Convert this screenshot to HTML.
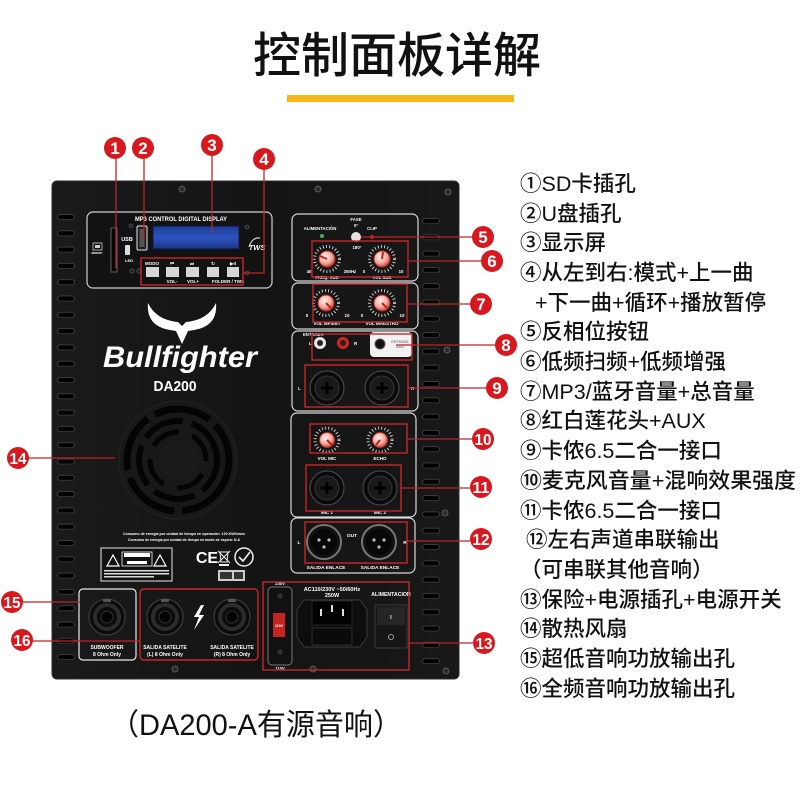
<!DOCTYPE html>
<html><head><meta charset="utf-8">
<style>
html,body{margin:0;padding:0;background:#fff;}
body{width:800px;height:800px;overflow:hidden;}
svg{display:block;}
.cj{font-family:"Liberation Sans","Noto Sans CJK SC",sans-serif;}
.t{font-family:"Liberation Sans",sans-serif;font-weight:bold;fill:#fff;}
</style></head>
<body>
<svg width="800" height="800" viewBox="0 0 800 800" xmlns="http://www.w3.org/2000/svg">
<defs>
  <pattern id="ventL" x="57" y="214" width="20" height="16.3" patternUnits="userSpaceOnUse">
    <rect x="0.5" y="0.5" width="17" height="5" rx="2.5" fill="#000" stroke="#4a4a4a" stroke-width="0.7"/>
  </pattern>
  <pattern id="ventR" x="422" y="218" width="20" height="16.3" patternUnits="userSpaceOnUse">
    <rect x="0.5" y="0.5" width="17" height="5" rx="2.5" fill="#000" stroke="#4a4a4a" stroke-width="0.7"/>
  </pattern>
  <linearGradient id="lcd" x1="0" y1="0" x2="0" y2="1">
    <stop offset="0" stop-color="#1b3a94"/><stop offset="0.5" stop-color="#2d55c0"/><stop offset="1" stop-color="#1a3586"/>
  </linearGradient>
  <radialGradient id="knob" cx="0.4" cy="0.35" r="0.7">
    <stop offset="0" stop-color="#fff2ee"/><stop offset="0.6" stop-color="#f0a79c"/><stop offset="1" stop-color="#c8342c"/>
  </radialGradient>
  <linearGradient id="panel" x1="0" y1="0" x2="1" y2="0">
    <stop offset="0" stop-color="#1a1a1a"/><stop offset="0.5" stop-color="#141414"/><stop offset="1" stop-color="#181818"/>
  </linearGradient>
</defs>

<!-- Title -->
<text x="397" y="72" text-anchor="middle" class="cj" font-size="48" font-weight="500" fill="#111">控制面板详解</text>
<rect x="287" y="95" width="227" height="7" fill="#f6b519"/>

<!-- Panel -->
<rect x="52" y="181" width="407" height="498" rx="5" fill="url(#panel)" stroke="#2c2c2c" stroke-width="1"/>
<rect x="57" y="214" width="19" height="456" fill="url(#ventL)"/>
<rect x="422" y="218" width="19" height="452" fill="url(#ventR)"/>

<!-- screws -->
<g fill="#2a2a2a" stroke="#6a6a6a" stroke-width="0.8">
  <circle cx="182" cy="189" r="3"/><circle cx="318" cy="189" r="3"/><circle cx="448" cy="192" r="3"/>
  <circle cx="447" cy="350" r="3"/><circle cx="445" cy="513" r="3"/>
  <circle cx="175" cy="669" r="3"/><circle cx="313" cy="669" r="3"/><circle cx="446" cy="671" r="3"/>
</g>

<!-- MP3 panel -->
<rect x="87" y="212" width="185" height="76" rx="6" fill="#121212" stroke="#cfcfcf" stroke-width="1.2"/>
<text x="181" y="221" text-anchor="middle" class="t" font-size="6.5" textLength="92" lengthAdjust="spacingAndGlyphs">MP3 CONTROL DIGITAL DISPLAY</text>
<rect x="111" y="228" width="6" height="44" fill="#050505" stroke="#777" stroke-width="0.8"/>
<rect x="93" y="243" width="9" height="7" fill="none" stroke="#ccc" stroke-width="0.8"/>
<rect x="95" y="245" width="5" height="3" fill="#ccc"/>
<text x="97" y="254" text-anchor="middle" class="t" font-size="2.5">MEMORY</text>
<text x="127" y="241" text-anchor="middle" class="t" font-size="5.5">USB</text>
<rect x="125" y="245" width="5" height="10" rx="1" fill="#ddd"/>
<text x="129" y="262" text-anchor="middle" class="t" font-size="4" fill="#aaa">LED</text>
<rect x="137" y="226" width="10" height="24" rx="1.5" fill="#1d1d1d" stroke="#e6e6e6" stroke-width="1"/>
<rect x="139.5" y="229" width="5" height="18" fill="#555"/>
<rect x="153" y="226" width="86" height="23" fill="url(#lcd)" stroke="#0c1a40" stroke-width="1"/>
<g fill="#222" stroke="#666" stroke-width="0.6">
  <circle cx="132" cy="271" r="2.2"/><circle cx="139" cy="271" r="2.2"/><circle cx="131" cy="226" r="2"/><circle cx="247" cy="227" r="2"/><circle cx="247" cy="273" r="2"/>
</g>
<path d="M249 247 q3 -10 11 -9" stroke="#ccc" stroke-width="1.2" fill="none"/>
<text x="257" y="250" text-anchor="middle" class="t" font-size="7.5" font-style="italic">TWS</text>
<g fill="#d6d6d6">
  <rect x="146" y="267" width="13" height="10"/><rect x="166" y="267" width="13" height="10"/><rect x="186" y="267" width="13" height="10"/><rect x="207" y="267" width="12" height="10"/><rect x="227" y="267" width="12" height="10"/>
</g>
<g class="t" font-size="4.5" text-anchor="middle">
  <text x="152" y="265">MODO</text><text x="172" y="265">⏮</text><text x="192" y="265">⏭</text><text x="213" y="265">↻</text><text x="233" y="265">▶II</text>
  <text x="172" y="283">VOL-</text><text x="193" y="283">VOL+</text><text x="228" y="283">FOLDER / TWS</text>
</g>

<!-- Logo -->
<path d="M148 303 Q146 326 170 330 L176 331 L182 344 L188 331 L194 330 Q218 326 216 303 Q208 320 186 322 L182 326 L178 322 Q156 320 148 303 Z" fill="#fff"/>
<text x="180" y="367" text-anchor="middle" class="t" font-size="30" font-style="italic" textLength="154" lengthAdjust="spacingAndGlyphs">Bullfighter</text>
<text x="175" y="391" text-anchor="middle" class="t" font-size="14.5" textLength="43" lengthAdjust="spacingAndGlyphs">DA200</text>

<!-- Fan -->
<g>
  <circle cx="178" cy="460" r="59" fill="#181818" stroke="#232323" stroke-width="1"/>
  <circle cx="178" cy="460" r="51" fill="none" stroke="#040404" stroke-width="7" stroke-dasharray="58 8" transform="rotate(20 178 460)"/>
  <circle cx="178" cy="460" r="39" fill="none" stroke="#040404" stroke-width="6" stroke-dasharray="42 9" transform="rotate(-10 178 460)"/>
  <circle cx="178" cy="460" r="28" fill="none" stroke="#040404" stroke-width="5" stroke-dasharray="30 14" transform="rotate(30 178 460)"/>
  <circle cx="178" cy="460" r="20" fill="#1a1a1a"/>
</g>

<!-- compliance -->
<g class="t" font-size="3.8" text-anchor="middle">
  <text x="184" y="535" textLength="122" lengthAdjust="spacingAndGlyphs">Consumo de energía por unidad de tiempo en operación: 120 KWh/mes</text>
  <text x="184" y="541" textLength="112" lengthAdjust="spacingAndGlyphs">Consumo de energía por unidad de tiempo en modo de espera: N.A</text>
</g>
<rect x="101" y="548" width="71" height="33" fill="#111" stroke="#e6e6e6" stroke-width="1"/>
<path d="M107 566 l6 -11 l6 11 z M154 566 l6 -11 l6 11 z" fill="none" stroke="#fff" stroke-width="1.2"/>
<rect x="122" y="552" width="30" height="14" fill="none" stroke="#fff" stroke-width="0.8"/>
<rect x="124" y="553" width="26" height="4" fill="#fff"/>
<rect x="127" y="561" width="20" height="3" fill="#fff"/>
<rect x="104" y="570" width="65" height="1.5" fill="#ddd"/><rect x="104" y="573" width="65" height="1.5" fill="#ddd"/><rect x="104" y="576" width="50" height="1.5" fill="#ddd"/>
<text x="207" y="563" text-anchor="middle" class="t" font-size="16">CE</text>
<path d="M220 552 h8 l-1 10 h-6 z M218 551 l12 12 M230 551 l-12 12" stroke="#eee" stroke-width="1" fill="none"/>
<rect x="219" y="564" width="10" height="2" fill="#eee"/>
<circle cx="244" cy="557" r="9" fill="none" stroke="#eee" stroke-width="1.5"/>
<path d="M239 557 l4 4 l7 -9" stroke="#eee" stroke-width="1.6" fill="none"/>
<rect x="218" y="570" width="27" height="11" fill="#ccc"/>
<rect x="220" y="572" width="12" height="7" fill="#333"/><rect x="234" y="572" width="9" height="7" fill="#333"/>

<!-- Speakon outputs -->
<rect x="79" y="589" width="57" height="71" rx="4" fill="none" stroke="#e8e8e8" stroke-width="1.2"/>
<rect x="140" y="589" width="118" height="71" rx="4" fill="none" stroke="#c8262a" stroke-width="1.4"/>
<g>
  <circle cx="107" cy="617" r="18" fill="#0b0b0b" stroke="#444" stroke-width="1"/>
  <circle cx="107" cy="617" r="12" fill="none" stroke="#2c2c2c" stroke-width="4"/>
  <circle cx="107" cy="617" r="6" fill="#000" stroke="#333" stroke-width="1"/>
  <rect x="103" y="599" width="8" height="3" fill="#555"/>
  <circle cx="165" cy="617" r="18" fill="#0b0b0b" stroke="#444" stroke-width="1"/>
  <circle cx="165" cy="617" r="12" fill="none" stroke="#2c2c2c" stroke-width="4"/>
  <circle cx="165" cy="617" r="6" fill="#000" stroke="#333" stroke-width="1"/>
  <rect x="161" y="599" width="8" height="3" fill="#555"/>
  <circle cx="232" cy="617" r="18" fill="#0b0b0b" stroke="#444" stroke-width="1"/>
  <circle cx="232" cy="617" r="12" fill="none" stroke="#2c2c2c" stroke-width="4"/>
  <circle cx="232" cy="617" r="6" fill="#000" stroke="#333" stroke-width="1"/>
  <rect x="228" y="599" width="8" height="3" fill="#555"/>
</g>
<path d="M201 605 l-7 12 h5 l-5 13 l10 -15 h-5 l5 -10 z" fill="#fff"/>
<g class="t" font-size="5" text-anchor="middle">
  <text x="107" y="649">SUBWOOFER</text><text x="107" y="656">8 Ohm Only</text>
  <text x="165" y="649">SALIDA SATELITE</text><text x="165" y="656">(L) 8 Ohm Only</text>
  <text x="232" y="649">SALIDA SATELITE</text><text x="232" y="656">(R) 8 Ohm Only</text>
</g>

<!-- Right subpanels -->
<g fill="none" stroke="#d8d8d8" stroke-width="1.2">
  <rect x="292" y="214" width="126" height="67" rx="6"/>
  <rect x="292" y="283" width="126" height="46" rx="6"/>
  <rect x="292" y="331" width="126" height="80" rx="6"/>
  <rect x="291" y="413" width="125" height="104" rx="6"/>
  <rect x="291" y="518" width="124" height="55" rx="6"/>
</g>

<!-- A: LEDs and knobs -->
<g class="t" font-size="4.3" text-anchor="middle">
  <text x="320" y="230">ALIMENTACIÓN</text><text x="356" y="221">FASE</text><text x="356" y="227">0°</text><text x="372" y="230">CLIP</text><text x="357" y="249">180°</text>
  <text x="327" y="279">FREQ. SUB</text><text x="382" y="279">VOL SUB</text>
  <text x="309" y="273">40</text><text x="350" y="273">250Hz</text><text x="364" y="273">0</text><text x="401" y="273">10</text>
</g>
<circle cx="322" cy="236" r="2" fill="#3bb35a"/>
<circle cx="356" cy="237" r="5" fill="#e8e0e0"/>
<circle cx="372" cy="237" r="2" fill="#d0201e"/>

<!-- knobs -->
<g>
  <g stroke="#eee" stroke-width="3" fill="none" stroke-dasharray="0.8 2.4">
    <circle cx="327" cy="259" r="12.5"/><circle cx="382" cy="259" r="12.5"/>
    <circle cx="326" cy="303" r="12.5"/><circle cx="382" cy="303" r="12.5"/>
    <circle cx="327" cy="440" r="12"/><circle cx="380" cy="440" r="12"/>
  </g>
  <g fill="url(#knob)" stroke="#b72820" stroke-width="1">
    <circle cx="327" cy="259" r="8"/><circle cx="382" cy="259" r="8"/>
    <circle cx="326" cy="303" r="8"/><circle cx="382" cy="303" r="8"/>
    <circle cx="327" cy="440" r="7.5"/><circle cx="380" cy="440" r="7.5"/>
  </g>
  <g stroke="#c0221c" stroke-width="2">
    <line x1="327" y1="259" x2="320" y2="256"/><line x1="382" y1="259" x2="383" y2="252"/>
    <line x1="326" y1="303" x2="331" y2="308"/><line x1="382" y1="303" x2="387" y2="308"/>
    <line x1="327" y1="440" x2="332" y2="445"/><line x1="380" y1="440" x2="376" y2="445"/>
  </g>
</g>
<g class="t" font-size="4.5" text-anchor="middle">
  <text x="327" y="325">VOL MP3/BT</text><text x="382" y="325">VOL MAESTRO</text>
  <text x="307" y="317">0</text><text x="347" y="317">10</text><text x="362" y="317">0</text><text x="402" y="317">10</text>
</g>

<!-- C: RCA / AUX / combo -->
<rect x="370" y="332" width="42" height="25" rx="4" fill="#f2f2f2"/>
<circle cx="380" cy="344" r="5" fill="#111" stroke="#555" stroke-width="1"/>
<text x="400" y="343" text-anchor="middle" font-family="Liberation Sans,sans-serif" font-size="3.6" fill="#555">ENTRADA</text>
<text x="400" y="348" text-anchor="middle" font-family="Liberation Sans,sans-serif" font-size="3.6" fill="#555">AUX</text>
<text x="303" y="336" class="t" font-size="4.2">ENTRADA</text>
<text x="309" y="345" class="t" font-size="4.5">L</text><text x="354" y="345" class="t" font-size="4.5">R</text>
<circle cx="320" cy="343" r="6" fill="#e8e8e8"/><circle cx="320" cy="343" r="3" fill="#222"/>
<circle cx="343" cy="343" r="6" fill="#d3231f"/><circle cx="343" cy="343" r="3" fill="#222"/>

<g>
  <g fill="#0a0a0a" stroke="#505050" stroke-width="1">
    <circle cx="327" cy="388" r="17"/><circle cx="382" cy="388" r="17"/>
    <circle cx="327" cy="488" r="17"/><circle cx="380" cy="488" r="17"/>
  </g>
  <g fill="#1a1a1a" stroke="#333" stroke-width="1">
    <circle cx="327" cy="388" r="12"/><circle cx="382" cy="388" r="12"/>
    <circle cx="327" cy="488" r="12"/><circle cx="380" cy="488" r="12"/>
  </g>
  <g stroke="#000" stroke-width="3">
    <path d="M321 388 h12 M327 382 v12"/>
    <path d="M376 388 h12 M382 382 v12"/>
    <path d="M321 488 h12 M327 482 v12"/>
    <path d="M374 488 h12 M380 482 v12"/>
  </g>
</g>
<g class="t" font-size="4.5">
  <text x="298" y="390">L</text><text x="411" y="390">R</text>
  <text x="327" y="514" text-anchor="middle">MIC 1</text><text x="380" y="514" text-anchor="middle">MIC 2</text>
  <text x="327" y="460" text-anchor="middle">VOL MIC</text><text x="380" y="460" text-anchor="middle">ECHO</text>
</g>

<!-- E: XLR out -->
<g>
  <circle cx="324" cy="542" r="17" fill="#111" stroke="#777" stroke-width="2"/>
  <circle cx="324" cy="542" r="13" fill="#080808"/>
  <circle cx="379" cy="542" r="17" fill="#111" stroke="#777" stroke-width="2"/>
  <circle cx="379" cy="542" r="13" fill="#080808"/>
  <g fill="#bbb">
    <circle cx="319" cy="540" r="1.6"/><circle cx="329" cy="540" r="1.6"/><circle cx="324" cy="547" r="1.6"/>
    <circle cx="374" cy="540" r="1.6"/><circle cx="384" cy="540" r="1.6"/><circle cx="379" cy="547" r="1.6"/>
  </g>
</g>
<g class="t" font-size="4.8" text-anchor="middle">
  <text x="352" y="537">OUT</text><text x="299" y="544">L</text><text x="405" y="544">R</text>
  <text x="326" y="569">SALIDA ENLACE</text><text x="380" y="569">SALIDA ENLACE</text>
</g>

<!-- Power section -->
<rect x="268" y="587" width="24" height="78" rx="4" fill="#111" stroke="#777" stroke-width="1"/>
<rect x="273" y="613" width="12" height="24" fill="#c3251f"/>
<text x="279" y="627" text-anchor="middle" class="t" font-size="3.5">110V</text>
<circle cx="280" cy="596" r="2" fill="#222" stroke="#666" stroke-width="0.6"/>
<circle cx="280" cy="652" r="2" fill="#222" stroke="#666" stroke-width="0.6"/>
<text x="280" y="585" text-anchor="middle" class="t" font-size="4.2">230V</text>
<text x="280" y="670" text-anchor="middle" class="t" font-size="4.2">110V</text>
<text x="332" y="591" text-anchor="middle" class="t" font-size="5.5">AC110/230V ~50/60Hz</text>
<text x="332" y="597" text-anchor="middle" class="t" font-size="5.5">250W</text>
<path d="M304 600 h56 l7 10 v27 l-7 10 h-56 l-7 -10 v-27 z" fill="#0d0d0d" stroke="#3a3a3a" stroke-width="1"/>
<rect x="312" y="601" width="40" height="24" fill="#020202" stroke="#222"/>
<g fill="#ddd"><rect x="320" y="609" width="2" height="7"/><rect x="331" y="605" width="2" height="7"/><rect x="342" y="609" width="2" height="7"/></g>
<rect x="312" y="628" width="40" height="17" fill="#0a0a0a" stroke="#2f2f2f"/>
<text x="391" y="596" text-anchor="middle" class="t" font-size="5.2">ALIMENTACION</text>
<rect x="375" y="605" width="32" height="43" fill="#161616" stroke="#3a3a3a" stroke-width="1"/>
<rect x="377" y="607" width="28" height="18" fill="#262626"/>
<text x="391" y="619" text-anchor="middle" class="t" font-size="5" fill="#bbb">I</text>
<circle cx="391" cy="637" r="2.5" fill="none" stroke="#bbb" stroke-width="0.8"/>

<!-- Red highlight boxes -->
<g fill="none" stroke="#c8262a" stroke-width="1.4">
  <rect x="141" y="258" width="102" height="27"/>
  <rect x="312" y="241" width="96" height="36"/>
  <rect x="313" y="284" width="94" height="38"/>
  <rect x="312" y="334" width="100" height="26"/>
  <rect x="305" y="365" width="103" height="42"/>
  <rect x="310" y="424" width="97" height="29"/>
  <rect x="306" y="465" width="95" height="46"/>
  <rect x="305" y="522" width="102" height="41"/>
  <rect x="263" y="582" width="146" height="88"/>
</g>

<!-- Connector lines -->
<g stroke="#b9262a" stroke-width="1.3" fill="none">
  <line x1="116" y1="158" x2="116" y2="268"/>
  <line x1="144" y1="158" x2="144" y2="238"/>
  <line x1="212" y1="155" x2="212" y2="232"/>
  <polyline points="264,169 264,273 243,273"/>
  <line x1="361" y1="237" x2="473" y2="237"/>
  <line x1="408" y1="261" x2="481" y2="261"/>
  <line x1="407" y1="304" x2="470" y2="304"/>
  <line x1="396" y1="345" x2="495" y2="345"/>
  <line x1="408" y1="388" x2="486" y2="388"/>
  <line x1="407" y1="439" x2="472" y2="439"/>
  <line x1="401" y1="488" x2="470" y2="488"/>
  <line x1="407" y1="541" x2="470" y2="541"/>
  <line x1="409" y1="643" x2="473" y2="643"/>
  <line x1="28" y1="458" x2="115" y2="458"/>
  <line x1="22" y1="602" x2="80" y2="602"/>
  <line x1="32" y1="641" x2="140" y2="641"/>
</g>

<!-- Badges -->
<g fill="#d7191f">
  <circle cx="115" cy="148" r="11"/><circle cx="143" cy="148" r="11"/><circle cx="212" cy="145" r="11"/><circle cx="264" cy="159" r="11"/>
  <circle cx="483" cy="237" r="11"/><circle cx="492" cy="261" r="11"/><circle cx="481" cy="304" r="11"/><circle cx="506" cy="345" r="11"/>
  <circle cx="497" cy="388" r="11"/><circle cx="483" cy="439" r="11"/><circle cx="481" cy="487" r="11"/><circle cx="481" cy="539" r="11"/>
  <circle cx="484" cy="643" r="11"/><circle cx="18" cy="458" r="11"/><circle cx="12" cy="602" r="11"/><circle cx="22" cy="640" r="11"/>
</g>
<g class="t" font-size="17" text-anchor="middle">
  <text x="115" y="154">1</text><text x="143" y="154">2</text><text x="212" y="151">3</text><text x="264" y="165">4</text>
  <text x="483" y="243">5</text><text x="492" y="267">6</text><text x="481" y="310">7</text><text x="506" y="351">8</text>
  <text x="497" y="394">9</text>
</g>
<g class="t" font-size="16" text-anchor="middle">
  <text x="483" y="445" textLength="17" lengthAdjust="spacingAndGlyphs">10</text>
  <text x="481" y="493" textLength="17" lengthAdjust="spacingAndGlyphs">11</text>
  <text x="481" y="545" textLength="17" lengthAdjust="spacingAndGlyphs">12</text>
  <text x="484" y="649" textLength="17" lengthAdjust="spacingAndGlyphs">13</text>
  <text x="18" y="464" textLength="17" lengthAdjust="spacingAndGlyphs">14</text>
  <text x="12" y="608" textLength="17" lengthAdjust="spacingAndGlyphs">15</text>
  <text x="22" y="646" textLength="17" lengthAdjust="spacingAndGlyphs">16</text>
</g>

<!-- Right list -->
<g class="cj" font-size="21.5" font-weight="500" fill="#111">
  <text x="520" y="191">①SD卡插孔</text>
  <text x="520" y="221">②U盘插孔</text>
  <text x="520" y="250">③显示屏</text>
  <text x="520" y="280">④从左到右:模式+上一曲</text>
  <text x="535" y="310">+下一曲+循环+播放暂停</text>
  <text x="520" y="339">⑤反相位按钮</text>
  <text x="520" y="369">⑥低频扫频+低频增强</text>
  <text x="520" y="399">⑦MP3/蓝牙音量+总音量</text>
  <text x="520" y="428">⑧红白莲花头+AUX</text>
  <text x="520" y="458">⑨卡侬6.5二合一接口</text>
  <text x="520" y="488" textLength="276" lengthAdjust="spacingAndGlyphs">⑩麦克风音量+混响效果强度</text>
  <text x="520" y="518">⑪卡侬6.5二合一接口</text>
  <text x="526" y="547">⑫左右声道串联输出</text>
  <text x="520" y="577">（可串联其他音响）</text>
  <text x="520" y="607">⑬保险+电源插孔+电源开关</text>
  <text x="520" y="636">⑭散热风扇</text>
  <text x="520" y="666">⑮超低音响功放输出孔</text>
  <text x="520" y="696">⑯全频音响功放输出孔</text>
</g>

<!-- Bottom caption -->
<text x="110" y="735" class="cj" font-size="30" fill="#111" textLength="292" lengthAdjust="spacingAndGlyphs">（DA200-A有源音响）</text>
</svg>
</body></html>
